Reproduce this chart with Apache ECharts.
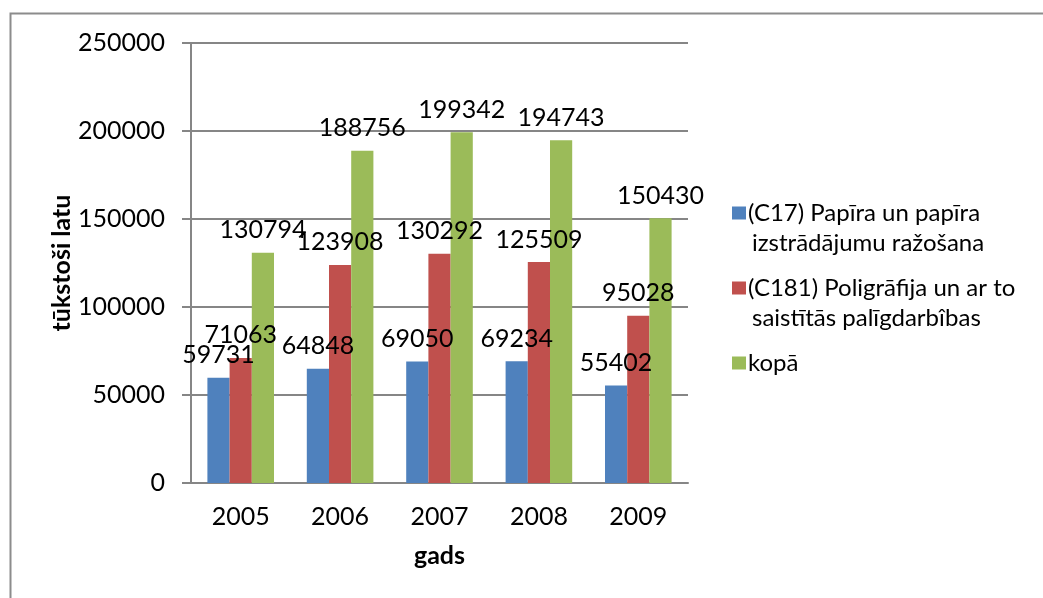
<!DOCTYPE html>
<html>
<head>
<meta charset="utf-8">
<script src="https://cdn.jsdelivr.net/npm/echarts@6/dist/echarts.min.js"></script>
<style>
  html, body { margin: 0; padding: 0; background: #fff; }
  #main { width: 1043px; height: 598px; }
</style>
</head>
<body>
<div id="main"></div>
<script>
// gadi un vērtības (tūkstoši latu)
var years = ['2005', '2006', '2007', '2008', '2009'];
var papirs = [59731, 64848, 69050, 69234, 55402];
var poligrafija = [71063, 123908, 130292, 125509, 95028];
var kopa = [130794, 188756, 199342, 194743, 150430];

var seriesNames = ['(C17) Papīra un papīra', '(C181) Poligrāfija', 'kopā'];
var legendLines = [
  ['(C17) Papīra un papīra', 'izstrādājumu ražošana'],
  ['(C181) Poligrāfija un ar to', 'saistītās palīgdarbîbas'],
  ['kopā']
];
var colors = ['#4F81BD', '#C0504D', '#9BBB59'];

var FONT = 'Lato';
var FS = 25;
var axisGray = '#868686';

var myChart = echarts.init(document.getElementById('main'));

// legenda: kvadrāts + pirmā rinda, otrā rinda ar atkāpi (kā Excel)
var rich = {
  t: { fontFamily: FONT, fontSize: 24, color: '#000', lineHeight: 30, padding: [0, 0, 0, 2] },
  t2: { fontFamily: FONT, fontSize: 24, color: '#000', lineHeight: 30, padding: [0, 0, 0, 20] }
};
colors.forEach(function (c, i) {
  rich['sq' + i] = { width: 14, height: 13, backgroundColor: c, lineHeight: 30 };
});

var barLabel = {
  show: true,
  position: 'top',
  distance: 10,
  fontFamily: FONT,
  fontSize: FS,
  color: '#000'
};

function makeSeries(idx, data) {
  return {
    name: seriesNames[idx],
    type: 'bar',
    data: data,
    barGap: '0%',
    barCategoryGap: '33%',
    itemStyle: { color: colors[idx] },
    label: barLabel,
    emphasis: { disabled: true }
  };
}

var option = {
  animation: false,
  backgroundColor: '#fff',
  textStyle: { fontFamily: FONT },
  graphic: [{
    type: 'rect',
    shape: { x: 10.5, y: 13.5, width: 1100, height: 700 },
    style: { fill: 'none', stroke: '#8c8c8c', lineWidth: 2 },
    silent: true
  }],
  grid: { left: 191, right: 355, top: 43, bottom: 115 },
  legend: {
    orient: 'vertical',
    left: 727,
    top: 201,
    padding: 0,
    itemGap: 21,
    itemWidth: 0,
    itemHeight: 0,
    icon: 'none',
    selectedMode: false,
    data: seriesNames,
    formatter: function (name) {
      var i = seriesNames.indexOf(name);
      var lines = legendLines[i];
      var s = '{sq' + i + '|}{t|' + lines[0] + '}';
      if (lines.length > 1) s += '\n{t2|' + lines[1] + '}';
      return s;
    },
    textStyle: { rich: rich }
  },
  xAxis: {
    type: 'category',
    data: years,
    name: 'gads',
    nameLocation: 'middle',
    nameGap: 60,
    nameTextStyle: { fontFamily: FONT, fontSize: FS, fontWeight: 'bold', color: '#000' },
    axisLine: { lineStyle: { color: axisGray, width: 2 } },
    axisTick: { show: false },
    axisLabel: { fontFamily: FONT, fontSize: FS, color: '#000', margin: 21 }
  },
  yAxis: {
    type: 'value',
    min: 0,
    max: 250000,
    interval: 50000,
    name: 'tūkstoši latu',
    nameLocation: 'middle',
    nameGap: 117,
    nameTextStyle: { fontFamily: FONT, fontSize: FS, fontWeight: 'bold', color: '#000' },
    axisLine: { show: true, lineStyle: { color: axisGray, width: 2 } },
    axisTick: { show: true, length: 9, lineStyle: { color: axisGray, width: 2 } },
    splitLine: { lineStyle: { color: axisGray, width: 2 } },
    axisLabel: {
      fontFamily: FONT, fontSize: FS, color: '#000', margin: 26,
      formatter: function (v) { return String(v); }
    }
  },
  series: [
    makeSeries(0, papirs),
    makeSeries(1, poligrafija),
    makeSeries(2, kopa)
  ]
};

myChart.setOption(option);
</script>
</body>
</html>
